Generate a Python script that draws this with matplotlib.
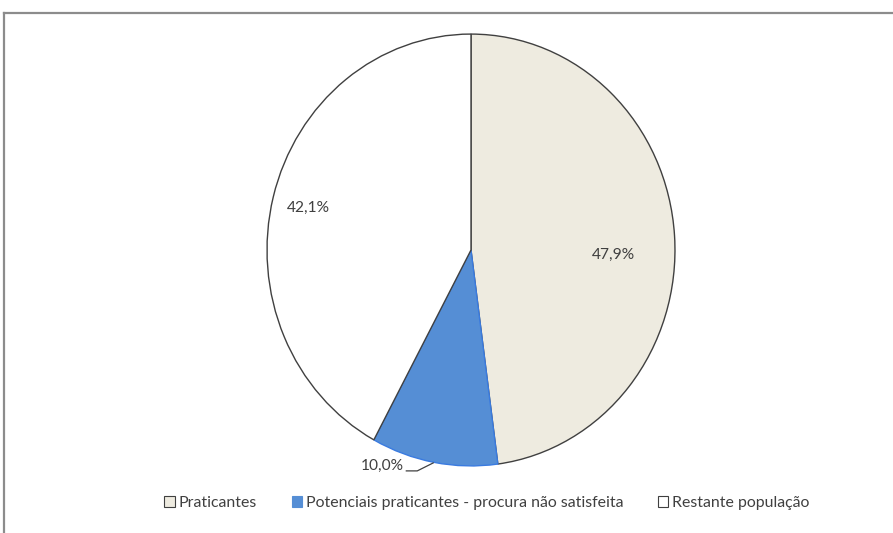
import matplotlib
matplotlib.use("Agg")
import matplotlib.pyplot as plt
from matplotlib.patches import Patch
from matplotlib.lines import Line2D

categories = ["Praticantes", "Potenciais praticantes - procura não satisfeita", "Restante população"]
values = [47.9, 10.0, 42.1]
colors = ["#EEEBE0", "#558ED5", "#FFFFFF"]
edgecolors = ["#404040", "#3A7BE0", "#404040"]

plt.rcParams['font.family'] = ['Lato', 'DejaVu Sans']

W, H = 893, 533
fig = plt.figure(figsize=(W / 100, H / 100), dpi=100)

# outer frame (top and left visible)
fig.add_artist(Line2D([4 / W, 1.0], [1 - 13 / H, 1 - 13 / H], color="#8C8C8C", lw=1.6, transform=fig.transFigure))
fig.add_artist(Line2D([4 / W, 4 / W], [0, 1 - 13 / H], color="#8C8C8C", lw=1.6, transform=fig.transFigure))

cx, cy, rx, ry = 471, 250, 205, 217
ax = fig.add_axes([(cx - rx) / W, (H - cy - ry) / H, 2 * rx / W, 2 * ry / H])
wedges, _ = ax.pie(values, colors=colors, startangle=90, counterclock=False,
                   wedgeprops=dict(linewidth=1.0, edgecolor="#404040"))
for w, ec in zip(wedges, edgecolors):
    w.set_edgecolor(ec)
ax.set_aspect('auto')
ax.set_xlim(-1.005, 1.005)
ax.set_ylim(-1.005, 1.005)
ax.axis('off')

def fmt(v):
    return f"{v:.1f}%".replace('.', ',')

fs = 11.2
ax.text(0.70, -0.023, fmt(values[0]), ha='center', va='center', fontsize=fs, color="#404040")
ax.text(-0.795, 0.194, fmt(values[2]), ha='center', va='center', fontsize=fs, color="#404040")
ax.text(-0.435, -1.0, fmt(values[1]), ha='center', va='center', fontsize=fs, color="#404040")
# leader line for small slice
lx = [(406 - cx) / rx, (417 - cx) / rx, (433 - cx) / rx]
ly = [(cy - 472) / ry, (cy - 472) / ry, (cy - 464) / ry]
ax.plot(lx, ly, color="#404040", lw=0.9, clip_on=False)

handles = [Patch(facecolor=c, edgecolor="#404040", linewidth=0.8) for c in colors]
handles[1] = Patch(facecolor=colors[1], edgecolor=colors[1], linewidth=0.8)
fig.legend(handles, categories, loc='center', bbox_to_anchor=(487 / W, 1 - 503 / H), ncol=3,
           frameon=False, fontsize=11.4, handlelength=0.65, handleheight=0.65, handletextpad=0.25,
           columnspacing=2.2, labelcolor="#404040")

fig.savefig("out.png", dpi=100)
